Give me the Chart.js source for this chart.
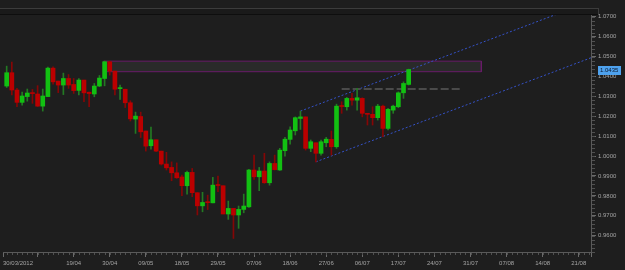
<!DOCTYPE html>
<html>
<head>
<meta charset="utf-8">
<title>AUDUSD Daily</title>
<script src="https://cdn.jsdelivr.net/npm/chart.js@4.4.1/dist/chart.umd.min.js"></script>
<style>
  html, body { margin: 0; padding: 0; background: #1e1e1e; }
  #wrap { position: relative; width: 625px; height: 270px; }
</style>
</head>
<body>
<div id="wrap"><canvas id="chart"></canvas></div>
<script>
// daily bars, 02/04/2012 .. 19/07/2012
const dates = [
    '02/04','03/04','04/04','05/04','06/04','09/04','10/04','11/04','12/04','13/04',
    '16/04','17/04','18/04','19/04','20/04','23/04','24/04','25/04','26/04','27/04','30/04',
    '01/05','02/05','03/05','04/05','07/05','08/05','09/05','10/05','11/05','14/05','15/05',
    '16/05','17/05','18/05','21/05','22/05','23/05','24/05','25/05','28/05','29/05','30/05','31/05',
    '01/06','04/06','05/06','06/06','07/06','08/06','11/06','12/06','13/06','14/06','15/06',
    '18/06','19/06','20/06','21/06','22/06','25/06','26/06','27/06','28/06','29/06',
    '02/07','03/07','04/07','05/07','06/07','09/07','10/07','11/07','12/07','13/07',
    '16/07','17/07','18/07','19/07'
];
const opens = [
    1.0352, 1.0419, 1.0332, 1.0270, 1.0299, 1.0317, 1.0312, 1.0251, 1.0299, 1.0442,
    1.0377, 1.0357, 1.0390, 1.0360, 1.0330, 1.0382, 1.0321, 1.0312, 1.0352, 1.0390, 1.0474,
    1.0427, 1.0339, 1.0336, 1.0268, 1.0186, 1.0199, 1.0126, 1.0052, 1.0082, 1.0025, 0.9960,
    0.9943, 0.9916, 0.9895, 0.9851, 0.9918, 0.9816, 0.9750, 0.9768, 0.9765, 0.9854, 0.9851, 0.9709,
    0.9737, 0.9704, 0.9732, 0.9745, 0.9930, 0.9896, 0.9925, 0.9866, 0.9963, 0.9930, 1.0027,
    1.0084, 1.0127, 1.0189, 1.0197, 1.0039, 1.0067, 1.0014, 1.0067, 1.0084, 1.0047,
    1.0251, 1.0248, 1.0290, 1.0281, 1.0290, 1.0212, 1.0210, 1.0193, 1.0251, 1.0139,
    1.0231, 1.0248, 1.0318, 1.0360
];
const highs = [
    1.0452, 1.0472, 1.0340, 1.0322, 1.0337, 1.0335, 1.0354, 1.0337, 1.0447, 1.0448,
    1.0377, 1.0417, 1.0410, 1.0390, 1.0390, 1.0382, 1.0322, 1.0365, 1.0405, 1.0477, 1.0477,
    1.0427, 1.0357, 1.0336, 1.0278, 1.0221, 1.0221, 1.0126, 1.0146, 1.0082, 1.0025, 1.0019,
    0.9971, 0.9966, 0.9905, 0.9925, 0.9938, 0.9816, 0.9818, 0.9804, 0.9893, 0.9900, 0.9851, 0.9774,
    0.9737, 0.9749, 0.9809, 0.9934, 1.0005, 0.9943, 1.0014, 0.9971, 1.0005, 1.0039, 1.0094,
    1.0147, 1.0197, 1.0226, 1.0197, 1.0081, 1.0067, 1.0081, 1.0094, 1.0126, 1.0261,
    1.0273, 1.0295, 1.0315, 1.0340, 1.0293, 1.0215, 1.0248, 1.0260, 1.0256, 1.0240,
    1.0256, 1.0323, 1.0373, 1.0437
];
const lows = [
    1.0345, 1.0307, 1.0248, 1.0256, 1.0276, 1.0265, 1.0249, 1.0226, 1.0298, 1.0361,
    1.0319, 1.0309, 1.0340, 1.0315, 1.0307, 1.0273, 1.0248, 1.0298, 1.0349, 1.0353, 1.0407,
    1.0307, 1.0285, 1.0244, 1.0176, 1.0114, 1.0093, 1.0025, 1.0035, 1.0022, 0.9955, 0.9930,
    0.9876, 0.9888, 0.9801, 0.9808, 0.9796, 0.9704, 0.9720, 0.9731, 0.9765, 0.9821, 0.9709, 0.9682,
    0.9586, 0.9637, 0.9715, 0.9742, 0.9883, 0.9826, 0.9863, 0.9854, 0.9930, 0.9928, 1.0000,
    1.0060, 1.0106, 1.0134, 1.0030, 1.0022, 0.9971, 1.0005, 1.0047, 1.0005, 1.0039,
    1.0215, 1.0231, 1.0256, 1.0231, 1.0197, 1.0156, 1.0156, 1.0181, 1.0097, 1.0131,
    1.0215, 1.0243, 1.0290, 1.0357
];
const closes = [
    1.0419, 1.0332, 1.0270, 1.0302, 1.0317, 1.0314, 1.0251, 1.0302, 1.0442, 1.0373,
    1.0357, 1.0390, 1.0357, 1.0329, 1.0382, 1.0318, 1.0314, 1.0352, 1.0392, 1.0474, 1.0427,
    1.0336, 1.0343, 1.0268, 1.0187, 1.0201, 1.0122, 1.0050, 1.0082, 1.0025, 0.9960, 0.9941,
    0.9916, 0.9891, 0.9851, 0.9918, 0.9816, 0.9750, 0.9767, 0.9766, 0.9854, 0.9852, 0.9709, 0.9737,
    0.9704, 0.9732, 0.9749, 0.9930, 0.9896, 0.9925, 0.9866, 0.9963, 0.9932, 1.0030, 1.0085,
    1.0131, 1.0193, 1.0197, 1.0039, 1.0072, 1.0014, 1.0072, 1.0085, 1.0047, 1.0251,
    1.0249, 1.0290, 1.0281, 1.0293, 1.0215, 1.0210, 1.0193, 1.0251, 1.0139, 1.0235,
    1.0251, 1.0318, 1.0365, 1.0435
];

// axis labels
const xLabels = ['30/03/2012', '19/04', '30/04', '09/05', '18/05', '29/05', '07/06', '18/06',
                 '27/06', '06/07', '17/07', '24/07', '31/07', '07/08', '14/08', '21/08'];
const yTicks = [0.96, 0.97, 0.98, 0.99, 1.00, 1.01, 1.02, 1.03, 1.04, 1.05, 1.06, 1.07];

// drawn objects (bar index, price)
const zoneBox = [
    {x: 18.8, y: 1.0477}, {x: 92.1, y: 1.0477}, {x: 92.1, y: 1.0424},
    {x: 18.8, y: 1.0424}, {x: 18.8, y: 1.0477}
];
const channelUpper = [{x: 57, y: 1.0226}, {x: 120, y: 1.0843}];
const channelLower = [{x: 60, y: 0.9971}, {x: 120, y: 1.0559}];
const levelLine = [{x: 65, y: 1.0337}, {x: 88, y: 1.0337}];

const xMin = -0.714, xMax = 113.38;
const yMin = 0.9518, yMax = 1.0709;

const UP = '#12c012', DOWN = '#bb0000';
const UP_WICK = '#237a23', DOWN_WICK = '#850606';
const FONT = "'Liberation Sans', Arial, sans-serif";

// x ticks: left edge label, then one every 7 bars
const firstTick = dates.indexOf(xLabels[1]);
const xTickPos = [xMin, firstTick - 7];
const xTickText = [xLabels[0], ''];
xLabels.slice(1).forEach((lab, k) => {
    xTickPos.push(firstTick + 7 * k);
    xTickText.push(lab);
});
xTickPos.push(xMax);
xTickText.push('');

const isUp = i => closes[i] >= opens[i];

const mtDecor = {
    id: 'mtDecor',
    beforeDraw(chart) {
        const ctx = chart.ctx;
        ctx.save();
        ctx.fillStyle = '#1a1a1a';
        ctx.fillRect(0, 8, 599, 7);
        ctx.fillStyle = '#3c3c3c';
        ctx.fillRect(0, 8, 599, 1);
        ctx.fillRect(598, 8, 1, 7);
        ctx.fillStyle = '#0e0e0e';
        ctx.fillRect(0, 14, 598, 1);
        ctx.restore();
    },
    afterDraw(chart) {
        const {ctx, chartArea} = chart;
        const x = chart.scales.x, y = chart.scales.y;
        ctx.save();
        // minor ticks
        ctx.fillStyle = '#505050';
        for (let i = Math.ceil(x.min); i <= x.max; i++) {
            ctx.fillRect(Math.round(x.getPixelForValue(i)), chartArea.bottom + 1, 1, 2);
        }
        for (let k = 476; k <= 535; k++) {
            const py = Math.round(y.getPixelForValue(k * 0.002));
            ctx.fillRect(chartArea.right + 1, py, 3, 1);
        }
        // current price marker
        const last = closes[closes.length - 1];
        const py = Math.round(y.getPixelForValue(last));
        ctx.fillStyle = '#4ea2ee';
        ctx.fillRect(598, py - 4, 23, 9);
        ctx.fillStyle = '#0b1830';
        ctx.font = '6px ' + FONT;
        ctx.textBaseline = 'middle';
        ctx.fillText(last.toFixed(4), 600, py + 0.5);
        ctx.restore();
    }
};

const ctx = document.getElementById('chart').getContext('2d');
new Chart(ctx, {
    type: 'bar',
    data: {
        datasets: [
            {
                type: 'bar',
                label: 'body',
                data: dates.map((d, i) => ({x: i, y: [opens[i], closes[i]]})),
                backgroundColor: c => isUp(c.dataIndex) ? UP : DOWN,
                barThickness: 4,
                minBarLength: 1,
                grouped: false,
                order: 1
            },
            {
                type: 'bar',
                label: 'wick',
                data: dates.map((d, i) => ({x: i, y: [lows[i], highs[i]]})),
                backgroundColor: c => isUp(c.dataIndex) ? UP_WICK : DOWN_WICK,
                barThickness: 1,
                grouped: false,
                order: 2
            },
            {
                type: 'line',
                label: 'level',
                data: levelLine,
                borderColor: '#4a4a4a',
                borderWidth: 2,
                borderDash: [8, 3],
                pointRadius: 0,
                order: 3
            },
            {
                type: 'line',
                label: 'channel up',
                data: channelUpper,
                borderColor: '#3552c8',
                borderWidth: 1,
                borderDash: [2, 2],
                pointRadius: 0,
                order: 4
            },
            {
                type: 'line',
                label: 'channel down',
                data: channelLower,
                borderColor: '#3552c8',
                borderWidth: 1,
                borderDash: [2, 2],
                pointRadius: 0,
                order: 4
            },
            {
                type: 'line',
                label: 'zone',
                data: zoneBox,
                borderColor: '#6a1c6a',
                backgroundColor: '#2a2a2a',
                borderWidth: 1,
                fill: 'shape',
                pointRadius: 0,
                order: 5
            }
        ]
    },
    options: {
        responsive: true,
        maintainAspectRatio: false,
        animation: false,
        events: [],
        layout: {
            padding: {top: 15, left: 0, right: 0, bottom: 0}
        },
        plugins: {
            legend: {display: false},
            tooltip: {enabled: false}
        },
        scales: {
            x: {
                type: 'linear',
                min: xMin,
                max: xMax,
                offset: false,
                afterBuildTicks: scale => {
                    scale.ticks = xTickPos.map(v => ({value: v}));
                },
                afterFit: scale => { scale.height = 18; },
                ticks: {
                    autoSkip: false,
                    maxRotation: 0,
                    align: 'inner',
                    padding: 3,
                    color: '#a4a4a4',
                    font: {family: FONT, size: 6},
                    callback: (v, i) => xTickText[i]
                },
                grid: {
                    drawOnChartArea: false,
                    offset: false,
                    tickLength: 5,
                    tickColor: '#6a6a6a'
                },
                border: {color: '#5a5a5a'}
            },
            y: {
                type: 'linear',
                position: 'right',
                min: yMin,
                max: yMax,
                afterBuildTicks: scale => {
                    scale.ticks = yTicks.map(v => ({value: v}));
                },
                afterFit: scale => { scale.width = 34; },
                ticks: {
                    padding: 2,
                    color: '#a4a4a4',
                    font: {family: FONT, size: 6},
                    callback: v => v.toFixed(4)
                },
                grid: {
                    drawOnChartArea: false,
                    tickLength: 5,
                    tickColor: '#6a6a6a'
                },
                border: {color: '#5a5a5a'}
            }
        }
    },
    plugins: [mtDecor]
});
</script>
</body>
</html>
